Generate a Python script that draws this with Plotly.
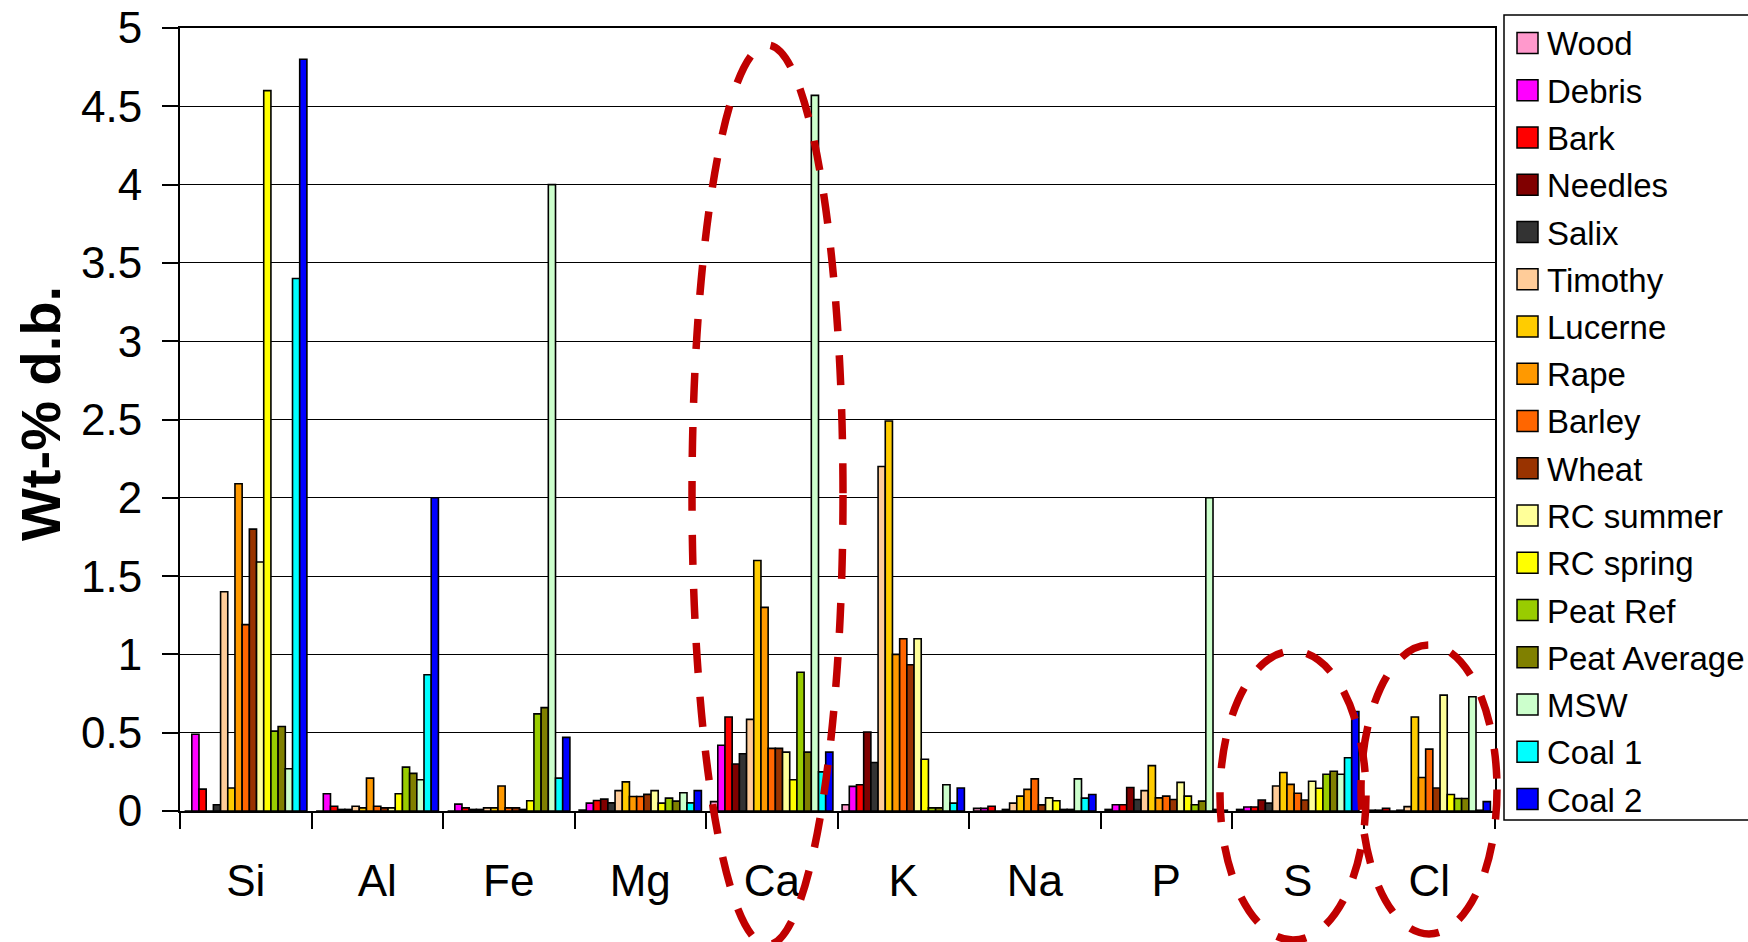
import plotly.graph_objects as go

elements = ["Si", "Al", "Fe", "Mg", "Ca", "K", "Na", "P", "S", "Cl"]

wood = [0.0, 0.0, 0.0, 0.006, 0.06, 0.04, 0.017, 0.01, 0.01, 0.005]
debris = [0.49, 0.11, 0.044, 0.05, 0.42, 0.157, 0.017, 0.04, 0.026, 0.005]
bark = [0.14, 0.03, 0.02, 0.067, 0.60, 0.168, 0.03, 0.04, 0.026, 0.017]
needles = [0.0, 0.01, 0.01, 0.076, 0.30, 0.504, 0.0, 0.15, 0.07, 0.0]
salix = [0.04, 0.01, 0.01, 0.052, 0.366, 0.31, 0.01, 0.073, 0.05, 0.005]
timothy = [1.40, 0.03, 0.02, 0.13, 0.585, 2.20, 0.05, 0.13, 0.16, 0.028]
lucerne = [0.147, 0.02, 0.02, 0.186, 1.60, 2.49, 0.095, 0.29, 0.246, 0.60]
rape = [2.09, 0.21, 0.16, 0.093, 1.30, 1.0, 0.138, 0.084, 0.17, 0.214]
barley = [1.19, 0.03, 0.02, 0.093, 0.40, 1.10, 0.205, 0.095, 0.113, 0.395]
wheat = [1.80, 0.02, 0.02, 0.106, 0.40, 0.934, 0.039, 0.073, 0.07, 0.147]
rc_summer = [1.59, 0.02, 0.01, 0.13, 0.376, 1.10, 0.084, 0.183, 0.19, 0.74]
rc_spring = [4.60, 0.11, 0.065, 0.05, 0.20, 0.33, 0.065, 0.095, 0.145, 0.105]
peat_ref = [0.51, 0.28, 0.62, 0.082, 0.886, 0.02, 0.01, 0.04, 0.235, 0.08]
peat_avg = [0.54, 0.24, 0.66, 0.063, 0.376, 0.02, 0.01, 0.063, 0.254, 0.08]
msw = [0.27, 0.20, 4.0, 0.117, 4.57, 0.168, 0.205, 2.0, 0.235, 0.73]
coal1 = [3.40, 0.87, 0.21, 0.052, 0.25, 0.05, 0.082, 0.01, 0.34, 0.005]
coal2 = [4.80, 2.0, 0.47, 0.13, 0.376, 0.147, 0.105, 0.005, 0.635, 0.06]

series_names = ["Wood", "Debris", "Bark", "Needles", "Salix", "Timothy", "Lucerne",
                "Rape", "Barley", "Wheat", "RC summer", "RC spring", "Peat Ref",
                "Peat Average", "MSW", "Coal 1", "Coal 2"]
series_values = [wood, debris, bark, needles, salix, timothy, lucerne, rape, barley,
                 wheat, rc_summer, rc_spring, peat_ref, peat_avg, msw, coal1, coal2]
series_colors = ["#FF99CC", "#FF00FF", "#FF0000", "#800000", "#333333", "#FFCC99",
                 "#FFCC00", "#FF9900", "#FF6600", "#993300", "#FFFF99", "#FFFF00",
                 "#99CC00", "#808000", "#CCFFCC", "#00FFFF", "#0000FF"]

FONT = "Liberation Sans, Arial, sans-serif"

fig = go.Figure()
for name, vals, col in zip(series_names, series_values, series_colors):
    fig.add_trace(go.Bar(
        name=name, x=elements, y=vals, showlegend=False,
        marker=dict(color=col, line=dict(color="black", width=1.6)),
    ))

# plot area in pixels
W, H = 1748, 942
L, R, T, B = 180, 1495, 28, 811
pw, ph = R - L, B - T

def px(x):
    return (x - L) / pw

def py(y):
    return (B - y) / ph

# red dashed highlight ellipses
ellipses = [(692, 843, 45, 945), (1220, 1366, 651, 940), (1361, 1497, 645, 934)]
for x0, x1, y0, y1 in ellipses:
    fig.add_shape(type="circle", xref="paper", yref="paper",
                  x0=px(x0), x1=px(x1), y0=py(y1), y1=py(y0),
                  line=dict(color="#C00000", width=7.5, dash="30px,24px"),
                  layer="above")

# legend box (drawn manually so it can run past the right edge like the original)
fig.add_shape(type="rect", xref="paper", yref="paper",
              x0=px(1504), x1=px(1800), y0=py(820), y1=py(15),
              line=dict(color="black", width=1.5), fillcolor="white", layer="above")
leg_top, leg_step = 43, 47.25
for i, (name, col) in enumerate(zip(series_names, series_colors)):
    cy = leg_top + i * leg_step
    fig.add_shape(type="rect", xref="paper", yref="paper",
                  x0=px(1517), x1=px(1538), y0=py(cy + 10.5), y1=py(cy - 10.5),
                  line=dict(color="black", width=1.5), fillcolor=col, layer="above")
    fig.add_annotation(text=name, xref="paper", yref="paper",
                       x=px(1545), y=py(cy + 1), xanchor="left", yanchor="middle",
                       showarrow=False,
                       font=dict(family=FONT, size=33, color="black"))

fig.add_annotation(text="<b>Wt-% d.b.</b>", xref="paper", yref="paper",
                   x=px(40), y=py(414), xanchor="center", yanchor="middle",
                   textangle=-90, showarrow=False,
                   font=dict(family=FONT, size=56, color="black"))

fig.update_layout(
    width=W, height=H,
    margin=dict(l=L, r=W - R, t=T, b=H - B, pad=0, autoexpand=False),
    paper_bgcolor="white", plot_bgcolor="white",
    barmode="group", bargap=0.07, bargroupgap=0,
    font=dict(family=FONT, color="black"),
    showlegend=False,
    xaxis=dict(
        type="category", tickson="boundaries", ticks="outside", ticklen=16,
        tickwidth=1.5, tickcolor="black", showline=True, linecolor="black",
        linewidth=2, mirror=True, showgrid=False,
        tickfont=dict(family=FONT, size=44, color="black"),
        ticklabelstandoff=30,
    ),
    yaxis=dict(
        range=[0, 5], dtick=0.5, tick0=0, ticks="outside", ticklen=16,
        tickwidth=1.5, tickcolor="black", showline=True, linecolor="black",
        linewidth=2, mirror=True, showgrid=True, gridcolor="black",
        gridwidth=1.3, zeroline=False,
        tickfont=dict(family=FONT, size=44, color="black"),
        ticklabelstandoff=11,
    ),
)

fig.write_html("out.html")
